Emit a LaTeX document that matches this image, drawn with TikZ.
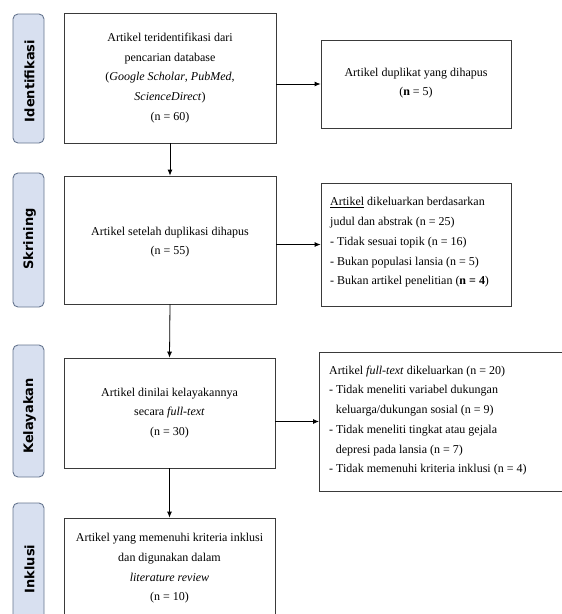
\documentclass[tikz,border=0pt]{standalone}
\usepackage{fontspec}
\setmainfont{Liberation Serif}
\newfontfamily\phasefont{DejaVu Sans}
\usetikzlibrary{arrows.meta}
\definecolor{labfill}{HTML}{D8E0F0}
\definecolor{labdraw}{HTML}{66758F}
\definecolor{boxdraw}{HTML}{3A3A3A}
\tikzset{
  phase/.style={draw=labdraw, fill=labfill, rounded corners=5pt, line width=0.9pt},
  phasetext/.style={rotate=90, font=\phasefont\fontsize{13}{15}\selectfont\bfseries},
  mainbox/.style={draw=boxdraw, line width=0.8pt},
  boxtext/.style={align=center, font=\fontsize{12}{19.7}\selectfont, inner sep=0pt},
  sidetext/.style={align=left, font=\fontsize{12}{19.7}\selectfont, inner sep=0pt},
  flow/.style={draw=black, line width=0.8pt, -{Latex[length=6pt,width=5pt]}}
}
\begin{document}
\begin{tikzpicture}[x=1pt,y=-1pt]
\useasboundingbox (0,0) rectangle (562,614);
\begin{scope}
\clip (0,0) rectangle (562,614);
% phase labels
\draw[phase] (13,14) rectangle (44,143);
\node[phasetext] (lid) at (29.5,81) {Identifikasi};
\draw[phase] (13,173) rectangle (44,307);
\node[phasetext] (lsk) at (29.5,239) {Skrining};
\draw[phase] (13,345) rectangle (44,477);
\node[phasetext] (lke) at (29.5,416) {Kelayakan};
\draw[phase] (13,503) rectangle (44,640);
\node[phasetext] (lin) at (29.5,569) {Inklusi};
% main boxes
\node[mainbox, minimum width=212pt, minimum height=130pt] (b1) at (170,78) {};
\node[boxtext] (t1) at (b1.center) {Artikel teridentifikasi dari\\pencarian database\\(\textit{Google Scholar}, \textit{PubMed},\\\textit{ScienceDirect})\\(n = 60)};
\node[mainbox, minimum width=212pt, minimum height=128pt] (b2) at (170,240) {};
\node[boxtext] (t2) at (170,242) {Artikel setelah duplikasi dihapus\\(n = 55)};
\node[mainbox, minimum width=211pt, minimum height=110pt] (b3) at (169.5,413) {};
\node[boxtext] (t3) at (169.5,413) {Artikel dinilai kelayakannya\\secara \textit{full-text}\\(n = 30)};
\node[mainbox, minimum width=211pt, minimum height=102pt] (b4) at (169.5,569) {};
\node[boxtext] (t4) at (169.5,568.5) {Artikel yang memenuhi kriteria inklusi\\dan digunakan dalam\\\textit{literature review}\\(n = 10)};
% side boxes
\node[mainbox, minimum width=190pt, minimum height=88pt] (r1) at (416,84) {};
\node[boxtext] (s1) at (416,83) {Artikel duplikat yang dihapus\\(\textbf{n} = 5)};
\node[mainbox, minimum width=190pt, minimum height=123pt] (r2) at (416,244.5) {};
\node[sidetext, anchor=west] (s2) at (330,242.5) {\underline{Artikel} dikeluarkan berdasarkan\\judul dan abstrak (n = 25)\\- Tidak sesuai topik (n = 16)\\- Bukan populasi lansia (n = 5)\\- Bukan artikel penelitian (\textbf{n = 4})};
\node[mainbox, minimum width=260pt, minimum height=139pt, anchor=west] (r3) at (319,421.5) {};
\node[sidetext, anchor=west] (s3) at (329,420.5) {Artikel \textit{full-text} dikeluarkan (n = 20)\\- Tidak meneliti variabel dukungan\\\hspace*{0.55em}keluarga/dukungan sosial (n = 9)\\- Tidak meneliti tingkat atau gejala\\\hspace*{0.55em}depresi pada lansia (n = 7)\\- Tidak memenuhi kriteria inklusi (n = 4)};
% connectors
\draw[flow] (b1.south) -- (b2.north);
\draw[flow] (b2.south) -- (b3.north);
\draw[flow] (b3.south) -- (b4.north);
\draw[flow] (b1.east |- r1.west) -- (r1.west);
\draw[flow] (b2.east |- r2.west) -- (r2.west);
\draw[flow] (b3.east |- r3.west) -- (r3.west);
\end{scope}
\end{tikzpicture}
\end{document}
